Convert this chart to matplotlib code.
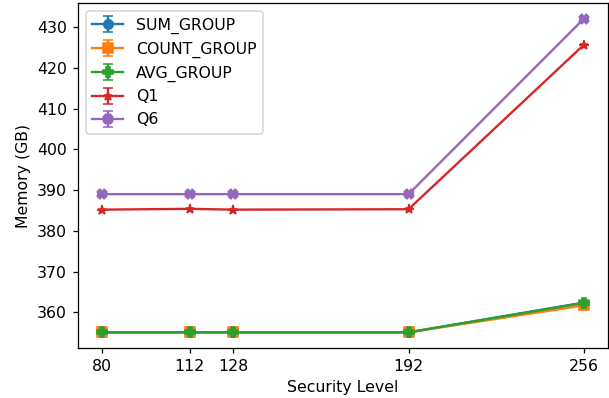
import matplotlib
matplotlib.use("Agg")
import matplotlib.pyplot as plt
import numpy as np

security_levels = [80, 112, 128, 192, 256]

sum_group = [355.1, 355.1, 355.1, 355.1, 362.4]
count_group = [355.1, 355.1, 355.1, 355.1, 361.7]
avg_group = [355.1, 355.1, 355.1, 355.1, 362.3]
q1 = [385.2, 385.4, 385.2, 385.3, 425.6]
q6 = [389.0, 389.0, 389.0, 389.0, 432.0]

series = [
    ("SUM_GROUP", sum_group, "o"),
    ("COUNT_GROUP", count_group, "s"),
    ("AVG_GROUP", avg_group, "P"),
    ("Q1", q1, "*"),
    ("Q6", q6, "X"),
]

# drawn at 113 dpi so text and markers come out a bit heavier
DPI = 113
fig = plt.figure(figsize=(609 / DPI, 398 / DPI), dpi=DPI)
ax = fig.add_axes([0.128, 0.1256, 0.87, 0.8664])

for name, values, marker in series:
    ax.errorbar(security_levels, values, yerr=np.zeros(len(values)),
                marker=marker, capsize=3, label=name)

ax.set_xticks(security_levels)
ax.set_xlabel("Security Level")
ax.set_ylabel("Memory (GB)")
ax.legend(loc="upper left")

fig.savefig("out.png", dpi=DPI)
